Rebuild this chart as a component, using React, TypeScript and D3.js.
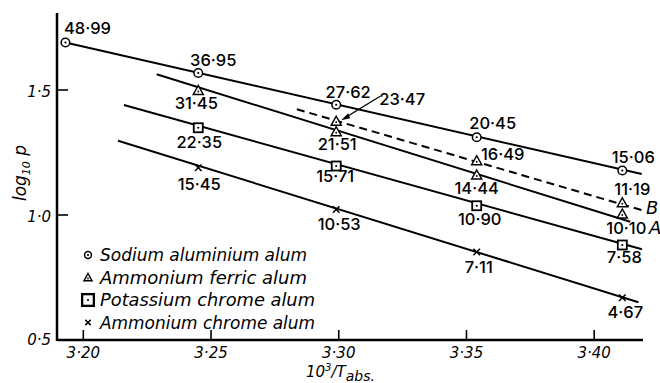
import React from 'react';
import * as d3 from 'd3';

// 10^3 / T(abs) for the five temperatures
const xValues = [3.193, 3.245, 3.299, 3.354, 3.411];

const sodiumY = [1.690, 1.568, 1.441, 1.311, 1.178];
const sodiumLabels = ['48·99', '36·95', '27·62', '20·45', '15·06'];

const ferricAX = [3.245, 3.299, 3.354, 3.411];
const ferricAY = [1.498, 1.333, 1.160, 1.004];
const ferricALabels = ['31·45', '21·51', '14·44', '10·10'];

const ferricBX = [3.299, 3.354, 3.411];
const ferricBY = [1.375, 1.217, 1.049];
const ferricBLabels = ['23·47', '16·49', '11·19'];

const potassiumX = [3.245, 3.299, 3.354, 3.411];
const potassiumY = [1.349, 1.196, 1.037, 0.880];
const potassiumLabels = ['22·35', '15·71', '10·90', '7·58'];

const ammChromeX = [3.245, 3.299, 3.354, 3.411];
const ammChromeY = [1.189, 1.022, 0.852, 0.669];
const ammChromeLabels = ['15·45', '10·53', '7·11', '4·67'];

// drawn straight lines (start / end, data units)
const sodiumLine = [[3.193, 1.690], [3.4186, 1.164]];
const ferricALine = [[3.2287, 1.563], [3.4141, 0.973]];
const ferricBLine = [[3.2836, 1.423], [3.4191, 1.018]];
const potassiumLine = [[3.2159, 1.440], [3.4187, 0.863]];
const ammChromeLine = [[3.2136, 1.297], [3.4173, 0.651]];

const xTicks = [3.20, 3.25, 3.30, 3.35, 3.40];
const xTickLabels = ['3·20', '3·25', '3·30', '3·35', '3·40'];
const yTicks = [0.5, 1.0, 1.5];
const yTickLabels = ['0·5', '1·0', '1·5'];

const legendNames = ['Sodium aluminium alum', 'Ammonium ferric alum', 'Potassium chrome alum', 'Ammonium chrome alum'];

// label placement, pixels from the point
const sodiumOff = [[22, -9], [15, -7], [12, -7], [16, -8], [11, -8]];
const ferricAOff = [[-2, 18], [1, 18], [0, 19], [4, 20]];
const ferricBOff = [[66, -16], [26, -1], [10, -8]];
const potassiumOff = [[1, 20], [-1, 16], [3, 19], [2, 18]];
const ammChromeOff = [[1, 22], [3, 20], [2, 21], [3, 20]];

const W = 660;
const H = 383;

const x = d3.scaleLinear().domain([3.1897, 3.4191]).range([57, 643]);
const y = d3.scaleLinear().domain([0.5, 1.0]).range([340, 215]);

const labelFont = 'Inter, "Liberation Sans", sans-serif';
const italicFont = '"DejaVu Sans", sans-serif';

const line = d3.line<number[]>().x(d => x(d[0])).y(d => y(d[1]));

const Marker = ({ kind, cx, cy, s = 1 }: { kind: string; cx: number; cy: number; s?: number }) => {
    if (kind === 'circle') {
        return (
            <g transform={`translate(${cx},${cy})`}>
                <circle r={4.3 * s} fill="white" stroke="black" strokeWidth={1.5} />
                <circle r={1.1} fill="black" />
            </g>
        );
    }
    if (kind === 'triangle') {
        return (
            <g transform={`translate(${cx},${cy})`}>
                <path d={`M0,${-5 * s}L${5 * s},${4 * s}L${-5 * s},${4 * s}Z`} fill="white" stroke="black" strokeWidth={1.5} />
                <circle cy={1} r={0.9} fill="black" />
            </g>
        );
    }
    if (kind === 'square') {
        return (
            <g transform={`translate(${cx},${cy})`}>
                <rect x={-4.5 * s} y={-4.5 * s} width={9 * s} height={9 * s} fill="white" stroke="black" strokeWidth={1.8 * s} />
                <circle r={1.1} fill="black" />
            </g>
        );
    }
    const r = 3.3 * s;
    return (
        <g transform={`translate(${cx},${cy})`} stroke="black" strokeWidth={1.5}>
            <line x1={-r} y1={-r} x2={r} y2={r} />
            <line x1={-r} y1={r} x2={r} y2={-r} />
        </g>
    );
};

const series = [
    { xs: xValues, ys: sodiumY, labels: sodiumLabels, off: sodiumOff, kind: 'circle' },
    { xs: ferricAX, ys: ferricAY, labels: ferricALabels, off: ferricAOff, kind: 'triangle' },
    { xs: ferricBX, ys: ferricBY, labels: ferricBLabels, off: ferricBOff, kind: 'triangle' },
    { xs: potassiumX, ys: potassiumY, labels: potassiumLabels, off: potassiumOff, kind: 'square' },
    { xs: ammChromeX, ys: ammChromeY, labels: ammChromeLabels, off: ammChromeOff, kind: 'cross' },
];

const legendKinds = ['circle', 'triangle', 'square', 'cross'];
const legendWidths = [207, 207, 215, 215];

export default function App() {
    const yTop = 1.808;
    // arrow for the 23.47 point
    const ax = x(ferricBX[0]);
    const ay = y(ferricBY[0]);

    return (
        <svg width={W} height={H} style={{ position: 'absolute', left: 0, top: 0, background: 'white' }}>
            {/* fitted lines */}
            <g fill="none" stroke="black" strokeWidth={2}>
                <path d={line(sodiumLine) || ''} />
                <path d={line(ferricALine) || ''} />
                <path d={line(ferricBLine) || ''} strokeDasharray="8,5" />
                <path d={line(potassiumLine) || ''} />
                <path d={line(ammChromeLine) || ''} />
            </g>

            {/* axes */}
            <g stroke="black" strokeWidth={2.5}>
                <line x1={x.range()[0]} y1={y(yTop)} x2={x.range()[0]} y2={y(0.5) + 1} />
                <line x1={x.range()[0]} y1={y(0.5)} x2={x.range()[1]} y2={y(0.5)} />
            </g>
            <g stroke="black" strokeWidth={1.6}>
                {xTicks.map(t => (
                    <line key={t} x1={x(t)} x2={x(t)} y1={y(0.5)} y2={y(0.5) - 10} />
                ))}
                {yTicks.filter(t => t > 0.5).map(t => (
                    <line key={t} x1={x.range()[0]} x2={x.range()[0] + 11} y1={y(t)} y2={y(t)} />
                ))}
            </g>
            <g fontFamily={italicFont} fontStyle="italic" fontSize={15} fill="black">
                {xTicks.map((t, i) => (
                    <text key={t} x={x(t)} y={358} textAnchor="middle">{xTickLabels[i]}</text>
                ))}
                {yTicks.map((t, i) => (
                    <text key={t} x={51} y={y(t) + (t === 0.5 ? 5 : 7)} textAnchor="end">{yTickLabels[i]}</text>
                ))}
            </g>

            {/* axis titles */}
            <text fontFamily={italicFont} fontStyle="italic" fontSize={17} transform="translate(26,173) rotate(-90)" textAnchor="middle">
                log<tspan fontSize={11} dy={4}>10</tspan><tspan dy={-4}> p</tspan>
            </text>
            <text fontFamily={italicFont} fontStyle="italic" fontSize={15} x={306} y={377}>
                10<tspan fontSize={10} dy={-6}>3</tspan><tspan dy={6}>/T</tspan><tspan fontSize={14} dy={4}>abs.</tspan>
            </text>

            {/* points and value labels */}
            {series.map((s, si) => (
                <g key={si}>
                    {s.xs.map((v, i) => (
                        <Marker key={i} kind={s.kind} cx={x(v)} cy={y(s.ys[i])} />
                    ))}
                    {s.xs.map((v, i) => (
                        <text key={'t' + i} x={x(v) + s.off[i][0]} y={y(s.ys[i]) + s.off[i][1]} textAnchor="middle"
                            fontFamily={labelFont} fontSize={16.5} fontWeight={500} fill="black"
                            style={{ fontFeatureSettings: '"pnum" 1, "tnum" 0' }}>{s.labels[i]}</text>
                    ))}
                </g>
            ))}

            {/* arrow to 23.47 */}
            <line x1={ax + 44} y1={ay - 25} x2={ax + 8} y2={ay - 3} stroke="black" strokeWidth={1.4} />
            <path d={`M${ax + 5},${ay - 1}L${ax + 12},${ay - 8}L${ax + 14},${ay - 3}Z`} fill="black" />

            {/* line letters */}
            <text x={x(ferricBLine[1][0]) + 3} y={y(ferricBLine[1][1]) + 3} fontFamily={italicFont} fontStyle="italic" fontSize={18}>B</text>
            <text x={x(ferricBLine[1][0]) + 6} y={y(ferricALine[1][1]) + 12} fontFamily={italicFont} fontStyle="italic" fontSize={18}>A</text>

            {/* legend */}
            {legendNames.map((n, i) => (
                <g key={n}>
                    <Marker kind={legendKinds[i]} cx={88} cy={255 + i * 22.5} s={i === 2 ? 1.3 : 0.8} />
                    <text x={100} y={261 + i * 22.5} fontFamily={italicFont} fontStyle="italic" fontSize={17}
                        textLength={legendWidths[i]} lengthAdjust="spacingAndGlyphs">{n}</text>
                </g>
            ))}
        </svg>
    );
}
